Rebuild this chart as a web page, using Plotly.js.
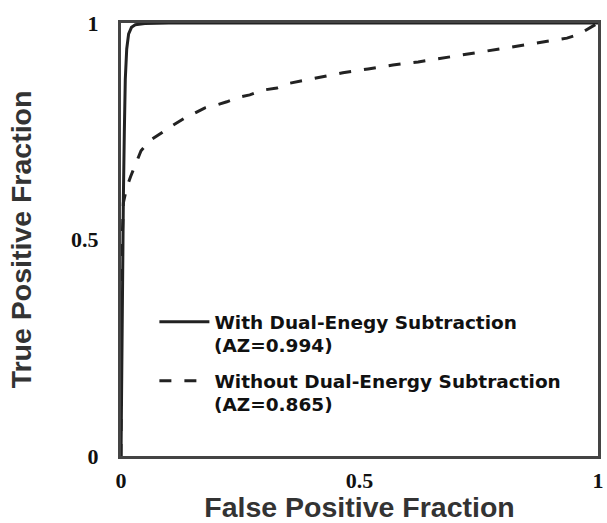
<!DOCTYPE html>
<html>
<head>
<meta charset="utf-8">
<script src="https://cdn.plot.ly/plotly-3.0.1.min.js"></script>
<style>html,body{margin:0;padding:0;background:#fff;}#chart{width:607px;height:523px;}</style>
</head>
<body>
<div id="chart"></div>
<script>
// With dual-energy subtraction (AZ = 0.994)
var withFPF = [0, 0.002, 0.004, 0.005, 0.007, 0.009, 0.012, 0.016, 0.022, 0.03, 0.05, 0.1, 1];
var withTPF = [0, 0.30, 0.55, 0.60, 0.75, 0.87, 0.94, 0.975, 0.99, 0.996, 0.999, 1, 1];

// Without dual-energy subtraction (AZ = 0.865)
var withoutFPF = [0, 0.001, 0.005, 0.012, 0.02, 0.03, 0.042, 0.06, 0.075, 0.09, 0.109, 0.134, 0.155, 0.176, 0.201, 0.222, 0.249, 0.270, 0.298, 0.327, 0.354, 0.413, 0.465, 0.518, 0.570, 0.623, 0.675, 0.727, 0.780, 0.832, 0.885, 0.935, 0.96, 0.98, 1];
var withoutTPF = [0, 0.45, 0.585, 0.62, 0.645, 0.672, 0.705, 0.728, 0.740, 0.750, 0.764, 0.781, 0.792, 0.804, 0.811, 0.818, 0.829, 0.834, 0.845, 0.850, 0.861, 0.873, 0.885, 0.894, 0.903, 0.910, 0.919, 0.928, 0.938, 0.947, 0.956, 0.965, 0.974, 0.987, 1];

var seriesNames = ["With Dual-Enegy Subtraction", "Without Dual-Energy Subtraction"];
var azLabels = ["(AZ=0.994)", "(AZ=0.865)"];
var tickVals = [0, 0.5, 1];
var tickText = ["0", "0.5", "1"];

var traces = [
  {x: withFPF, y: withTPF, mode: "lines", name: seriesNames[0], line: {color: "#222", width: 3}, legendgroup: "a"},
  {x: withoutFPF, y: withoutTPF, mode: "lines", name: seriesNames[1], line: {color: "#222", width: 3, dash: "12px,13px"}, legendgroup: "b"}
];

var tickFont = {family: "Liberation Serif, serif", size: 22, color: "#111", weight: "bold"};
var titleFont = {family: "Liberation Sans, Arial, sans-serif", size: 28.5, color: "#333", weight: "bold"};
var legendFont = {family: "DejaVu Sans, sans-serif", size: 18.5, color: "#111", weight: "bold"};

var layout = {
  width: 607, height: 523,
  margin: {l: 121, r: 9, t: 23, b: 67},
  paper_bgcolor: "#fff", plot_bgcolor: "#fff",
  showlegend: true,
  legend: {
    x: 0.07, y: 0.353, xanchor: "left", yanchor: "top",
    font: legendFont,
    valign: "top", bgcolor: "rgba(0,0,0,0)", borderwidth: 0,
    itemwidth: 50, tracegroupgap: 32
  },
  annotations: [
    {xref: "paper", yref: "paper", x: 0.19, y: 0.256, xanchor: "left", yanchor: "middle", text: azLabels[0], showarrow: false, font: legendFont},
    {xref: "paper", yref: "paper", x: 0.19, y: 0.120, xanchor: "left", yanchor: "middle", text: azLabels[1], showarrow: false, font: legendFont}
  ],
  xaxis: {
    range: [0, 1], tickvals: tickVals, ticktext: tickText, ticks: "",
    showgrid: false, zeroline: false, showline: true, mirror: true,
    linewidth: 3, linecolor: "#444", tickfont: tickFont, ticklabelstandoff: 3,
    title: {text: "False Positive Fraction", font: titleFont, standoff: 3}
  },
  yaxis: {
    range: [0, 1], tickvals: tickVals, ticktext: tickText, ticks: "",
    showgrid: false, zeroline: false, showline: true, mirror: true,
    linewidth: 3, linecolor: "#444", tickfont: tickFont, ticklabelstandoff: 15,
    title: {text: "True Positive Fraction", font: titleFont, standoff: 32}
  }
};

Plotly.newPlot("chart", traces, layout, {displayModeBar: false, staticPlot: true});
</script>
</body>
</html>
